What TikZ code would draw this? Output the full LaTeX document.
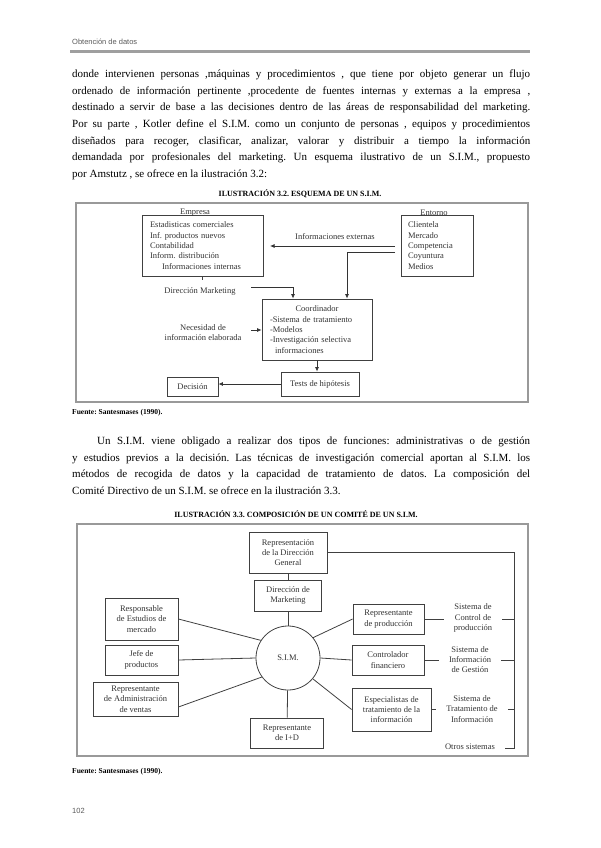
\documentclass[tikz,border=0pt]{standalone}
\usepackage{fontspec}
\setmainfont{Liberation Serif}
\newfontfamily\headfont{Liberation Sans}
\usetikzlibrary{arrows.meta,calc,positioning}
\frenchspacing
\tikzset{
    page line/.style={anchor=base west, inner sep=0pt, font=\fontsize{11}{12}\selectfont},
    page head/.style={anchor=base west, inner sep=0pt, text=black!65, font=\headfont\fontsize{7.5}{9}\selectfont},
    fig caption/.style={anchor=base, inner sep=0pt, font=\bfseries\fontsize{8}{9}\selectfont},
    fig source/.style={anchor=base west, inner sep=0pt, font=\bfseries\fontsize{7.5}{9}\selectfont},
    fig frame/.style={draw=gray!80, line width=1.4pt},
    sim box/.style={
        draw=black!75,
        line width=0.8pt,
        inner sep=0pt,
        align=center,
        text=black!80,
        font=\fontsize{8.5}{10.3}\selectfont
    },
    sim label/.style={inner sep=0pt, align=center, text=black!80, font=\fontsize{8.5}{10.3}\selectfont},
    sim system/.style={sim label, inner xsep=10pt},
    sim arrow/.style={-{Latex[length=4.5pt,width=4pt]}, draw=black!80, line width=0.8pt},
    sim link/.style={draw=black!75, line width=0.8pt}
}

\begin{document}
\begin{tikzpicture}[x=1pt,y=-1pt]
    \useasboundingbox (0,0) rectangle (601,848);

    % page head
    \node[page head] (head) at (72,45) {Obtención de datos};
    \draw[gray!75, line width=3pt] (70,52) -- (530,52);

    % first paragraph
    \node[page line] (pa1) at (72,77.5) {\makebox[458pt][s]{donde intervienen personas ,máquinas y procedimientos , que tiene por objeto generar un flujo}};
    \node[page line] (pa2) at (72,94.2) {\makebox[458pt][s]{ordenado de información pertinente ,procedente de fuentes internas y externas a la empresa ,}};
    \node[page line] (pa3) at (72,110.8) {\makebox[458pt][s]{destinado a servir de base a las decisiones dentro de las áreas de responsabilidad del marketing.}};
    \node[page line] (pa4) at (72,127.5) {\makebox[458pt][s]{Por su parte , Kotler define el S.I.M. como un conjunto de personas , equipos y procedimientos}};
    \node[page line] (pa5) at (72,144.2) {\makebox[458pt][s]{diseñados para recoger, clasificar, analizar, valorar y distribuir a tiempo la información}};
    \node[page line] (pa6) at (72,160.8) {\makebox[458pt][s]{demandada por profesionales del marketing. Un esquema ilustrativo de un S.I.M., propuesto}};
    \node[page line] (pa7) at (72,177.5) {por Amstutz , se ofrece en la ilustración 3.2:};

    % illustration 3.2
    \node[fig caption] (cap1) at (300,196) {ILUSTRACIÓN 3.2. ESQUEMA DE UN S.I.M.};
    \draw[fig frame] (76,203) rectangle (528,402);

    \node[sim box, minimum width=121pt, minimum height=61pt, text width=105pt, align=left] (empresa) at (202.5,245.5)
        {Estadisticas comerciales\\Inf. productos nuevos\\Contabilidad\\Inform. distribución\\\hspace*{12pt}Informaciones internas};
    \node[sim label] (empresalbl) at (195,213) {Empresa};
    \node[sim box, minimum width=72pt, minimum height=61pt, text width=58pt, align=left] (entorno) at (437,245.5)
        {Clientela\\Mercado\\Competencia\\Coyuntura\\Medios};
    \node[sim label] (entornolbl) at (434,213) {Entorno};

    \node[sim box, minimum width=110pt, minimum height=61pt, text width=94pt, align=left] (coord) at (317,329.5)
        {\makebox[94pt]{Coordinador}\\-Sistema de tratamiento\\-Modelos\\-Investigación selectiva\\\hspace*{5pt}informaciones};
    \node[sim box, minimum width=78pt, minimum height=24pt] (tests) at (320,384) {Tests de hipótesis};
    \node[sim box, minimum width=51pt, minimum height=19pt] (decision) at (192.5,386.5) {Decisión};

    \node[sim label] (extlbl) at (335,237) {Informaciones externas};
    \node[sim label] (dirlbl) at (200,291) {Dirección Marketing};
    \node[sim label] (neclbl) at (203,332.5) {Necesidad de\\información elaborada};

    \coordinate (ext out) at (395,246);
    \coordinate (ext in) at (270,246);
    \coordinate (ent out) at (395,252);
    \coordinate (dir out) at (251,287);
    \coordinate (nec out) at (251,330);

    \draw[sim arrow] (ext out) -- (ext in);
    \draw[sim arrow] (ent out) -| ([xshift=30pt]coord.north);
    \draw[sim link] (empresa.south) -- ++(0,4);
    \draw[sim arrow] (dir out) -| ([xshift=-24pt]coord.north);
    \draw[sim arrow] (nec out) -- (nec out -| coord.west);
    \draw[sim arrow] (coord.south) -- (coord.south |- tests.north);
    \draw[sim arrow] (tests.west) -- (decision.east |- tests.west);

    \node[fig source] (src1) at (72,414) {Fuente: Santesmases (1990).};

    % second paragraph
    \node[page line] (pb1) at (97,444.5) {\makebox[433pt][s]{Un S.I.M. viene obligado a realizar dos tipos de funciones: administrativas o de gestión}};
    \node[page line] (pb2) at (72,461.2) {\makebox[458pt][s]{y estudios previos a la decisión. Las técnicas de investigación comercial aportan al S.I.M. los}};
    \node[page line] (pb3) at (72,477.8) {\makebox[458pt][s]{métodos de recogida de datos y la capacidad de tratamiento de datos. La composición del}};
    \node[page line] (pb4) at (72,494.5) {Comité Directivo de un S.I.M. se ofrece en la ilustración 3.3.};

    % illustration 3.3
    \node[fig caption] (cap2) at (296,517) {ILUSTRACIÓN 3.3. COMPOSICIÓN DE UN COMITÉ DE UN S.I.M.};
    \draw[fig frame] (77,524) rectangle (528,756);

    \node[sim box, minimum width=78pt, minimum height=41pt] (repdir) at (288,552.5) {Representación\\de la Dirección\\General};
    \node[sim box, minimum width=67pt, minimum height=31pt] (dirmk) at (288,595.5) {Dirección de\\Marketing};
    \node[sim box, circle, minimum size=64pt] (sim) at (288,658) {S.I.M.};
    \node[sim box, minimum width=73pt, minimum height=30pt] (rid) at (287,733) {Representante\\de I+D};

    \node[sim box, minimum width=73pt, minimum height=42pt] (rem) at (141.5,619) {Responsable\\de Estudios de\\mercado};
    \node[sim box, minimum width=73pt, minimum height=30pt] (jefe) at (141.5,660) {Jefe de\\productos};
    \node[sim box, minimum width=85pt, minimum height=34pt] (adm) at (135.5,699) {Representante\\de Administración\\de ventas};

    \node[sim box, minimum width=71pt, minimum height=30pt] (prod) at (388.5,619) {Representante\\de producción};
    \node[sim box, minimum width=72pt, minimum height=30pt] (fin) at (388,660) {Controlador\\financiero};
    \node[sim box, minimum width=79pt, minimum height=43pt] (esp) at (391.5,709.5) {Especialistas de\\tratamiento de la\\información};

    \node[sim system] (ctrl) at (473,618) {Sistema de\\Control de\\producción};
    \node[sim system] (sig) at (470,659.5) {Sistema de\\Información\\de Gestión};
    \node[sim system] (stit) at (472,709) {Sistema de\\Tratamiento de\\Información};
    \node[sim system] (otros) at (470,747) {Otros sistemas};

    \draw[sim link] (repdir) -- (dirmk);
    \draw[sim link] (dirmk) -- (sim);
    \draw[sim link] (sim) -- (rid);
    \draw[sim link] (rem.east) -- (sim.147);
    \draw[sim link] (jefe.east) -- (sim.west);
    \draw[sim link] ($(adm.east)+(0,8)$) -- (sim.216);
    \draw[sim link] (sim.39) -- (prod.west);
    \draw[sim link] (sim.east) -- (fin.west);
    \draw[sim link] (sim.320) -- (esp.west);

    \coordinate (busend) at (514,748);
    \draw[sim link] (repdir.east) -| (busend) -- (busend -| otros.east);
    \foreach \b/\s in {prod/ctrl,fin/sig,esp/stit} {
        \draw[sim link] (\b.east) -- (\b.east -| \s.west);
        \draw[sim link] (\s.east |- \b.east) -- (\b.east -| busend);
    }

    \node[fig source] (src2) at (72,773) {Fuente: Santesmases (1990).};

    \node[page head] (pagenum) at (72,813) {102};
\end{tikzpicture}
\end{document}
